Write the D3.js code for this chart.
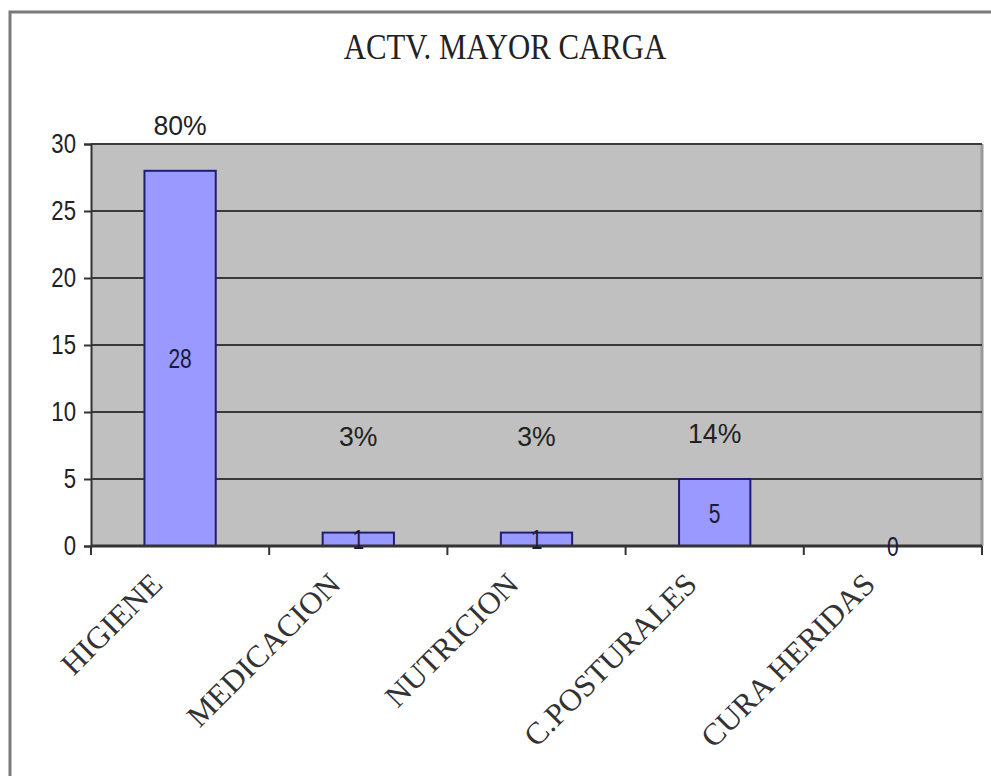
<!DOCTYPE html>
<html>
<head>
<meta charset="utf-8">
<script src="https://cdn.jsdelivr.net/npm/d3@7"></script>
<style>
  body { margin: 0; background: #fff; }
  svg { display: block; }
</style>
</head>
<body>
<svg id="chart"></svg>
<script>
// data
const categories = ["HIGIENE", "MEDICACION", "NUTRICION", "C.POSTURALES", "CURA HERIDAS"];
const counts = [28, 1, 1, 5, 0];
const percents = ["80%", "3%", "3%", "14%", ""];
const yTicks = [0, 5, 10, 15, 20, 25, 30];
const title = "ACTV. MAYOR CARGA";

const W = 991, H = 776;
const margin = { top: 144, right: 9, bottom: 230, left: 91 };
const width = W - margin.left - margin.right;
const height = H - margin.top - margin.bottom;

const svg = d3.select("#chart").attr("width", W).attr("height", H);

// squeeze text horizontally (the original fonts are narrow)
function squeeze(sel, k) {
    sel.each(function () {
        const len = this.getComputedTextLength();
        if (len > 0) {
            d3.select(this).attr("textLength", len * k).attr("lengthAdjust", "spacingAndGlyphs");
        }
    });
}

// outer frame
svg.append("rect")
    .attr("x", 10).attr("y", 12)
    .attr("width", 1100).attr("height", 900)
    .attr("fill", "none")
    .attr("stroke", "#7a7a7a")
    .attr("stroke-width", 3);

svg.append("text")
    .attr("x", 505).attr("y", 59)
    .attr("text-anchor", "middle")
    .style("font-family", "Liberation Serif")
    .style("font-size", "35px")
    .attr("fill", "#222")
    .text(title)
    .call(squeeze, 0.88);

const g = svg.append("g").attr("transform", `translate(${margin.left},${margin.top})`);

const x = d3.scaleBand().domain(categories).range([0, width]).paddingInner(0).paddingOuter(0);
const y = d3.scaleLinear().domain([0, 30]).range([height, 0]);

// plot background
g.append("rect")
    .attr("width", width).attr("height", height)
    .attr("fill", "#c0c0c0");

// right border of plot area
g.append("line").attr("x1", width).attr("x2", width).attr("y1", 0).attr("y2", height)
    .attr("stroke", "#9a9a9a").attr("stroke-width", 3);

// gridlines
g.append("g")
    .selectAll("line")
    .data(yTicks.filter(d => d > 0))
    .join("line")
    .attr("x1", 0).attr("x2", width)
    .attr("y1", d => y(d)).attr("y2", d => y(d))
    .attr("stroke", "#3a3a3a")
    .attr("stroke-width", 2);

// bars
const barW = x.bandwidth() * 0.4;
g.append("g")
    .selectAll("rect")
    .data(categories.map((c, i) => ({ c, v: counts[i] })))
    .join("rect")
    .attr("x", d => x(d.c) + (x.bandwidth() - barW) / 2)
    .attr("y", d => y(d.v))
    .attr("width", barW)
    .attr("height", d => y(0) - y(d.v))
    .attr("fill", "#9999ff")
    .attr("stroke", "#1f1f6b")
    .attr("stroke-width", d => d.v > 0 ? 2 : 0);

// y axis
const yAxis = g.append("g")
    .call(d3.axisLeft(y).tickValues(yTicks).tickSize(7).tickPadding(8));
yAxis.select(".domain").attr("stroke", "#333").attr("stroke-width", 2);
yAxis.selectAll(".tick line").attr("stroke", "#333").attr("stroke-width", 2);
yAxis.selectAll(".tick text")
    .style("font-family", "Liberation Sans")
    .style("font-size", "27px")
    .attr("fill", "#222")
    .call(squeeze, 0.82);

// x axis, ticks on band edges
const xAxis = g.append("g").attr("transform", `translate(0,${height})`);
xAxis.append("line").attr("x1", 0).attr("x2", width)
    .attr("stroke", "#333").attr("stroke-width", 3);
xAxis.selectAll(".edge")
    .data(d3.range(categories.length + 1))
    .join("line")
    .attr("class", "edge")
    .attr("x1", i => i * x.bandwidth()).attr("x2", i => i * x.bandwidth())
    .attr("y1", 0).attr("y2", 9)
    .attr("stroke", "#333").attr("stroke-width", 2);

xAxis.selectAll(".cat")
    .data(categories)
    .join("text")
    .attr("class", "cat")
    .attr("transform", d => `translate(${x(d) + x.bandwidth() / 2 - 16},${40}) rotate(-45)`)
    .attr("text-anchor", "end")
    .style("font-family", "Liberation Serif")
    .style("font-size", "31px")
    .attr("fill", "#333")
    .text(d => d)
    .call(squeeze, 1.02);

// value labels
g.append("g")
    .selectAll("text")
    .data(categories.map((c, i) => ({ c, v: counts[i] })))
    .join("text")
    .attr("x", d => x(d.c) + x.bandwidth() / 2)
    .attr("y", d => (y(d.v) + y(0)) / 2 + 10)
    .attr("text-anchor", "middle")
    .style("font-family", "Liberation Sans")
    .style("font-size", "28px")
    .attr("fill", "#1a1a3a")
    .text(d => d.v)
    .call(squeeze, 0.75);

// percentage labels
g.append("g")
    .selectAll("text")
    .data(categories.map((c, i) => ({ c, v: counts[i], p: percents[i] })))
    .join("text")
    .attr("x", d => x(d.c) + x.bandwidth() / 2)
    .attr("y", d => Math.min(y(d.v) - 36, y(7.5)))
    .attr("text-anchor", "middle")
    .style("font-family", "Liberation Sans")
    .style("font-size", "28px")
    .attr("fill", "#222")
    .text(d => d.p)
    .call(squeeze, 0.95);
</script>
</body>
</html>
